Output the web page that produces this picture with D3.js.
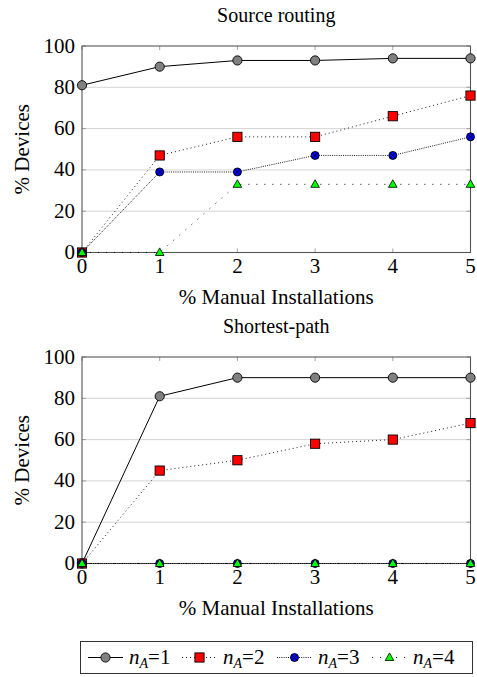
<!DOCTYPE html>
<html>
<head>
<meta charset="utf-8">
<script src="https://cdn.jsdelivr.net/npm/d3@7"></script>
<style>
  body { margin: 0; background: #fff; }
</style>
</head>
<body>
<div id="chart"></div>
<script>

// data
var xValues = [0, 1, 2, 3, 4, 5];
var yTickValues = [0, 20, 40, 60, 80, 100];
var panelTitles = ["Source routing", "Shortest-path"];
var seriesNames = ["1", "2", "3", "4"];   // n_A = ...

var sourceN1 = [81, 90, 93, 93, 94, 94];
var sourceN2 = [0, 47, 56, 56, 66, 76];
var sourceN3 = [0, 39, 39, 47, 47, 56];
var sourceN4 = [0, 0, 33, 33, 33, 33];

var shortestN1 = [0, 81, 90, 90, 90, 90];
var shortestN2 = [0, 45, 50, 58, 60, 68];
var shortestN3 = [0, 0, 0, 0, 0, 0];
var shortestN4 = [0, 0, 0, 0, 0, 0];

var xLabel = "% Manual Installations";
var yLabel = "% Devices";

// renderer only picks up the plain family name
var serif = "Liberation Serif";

// styles per series
var styles = [
  {dash: null,   width: 1,   mark: "circle"},
  {dash: "1,3",  width: 0.9, mark: "square"},
  {dash: "1,1.2",width: 0.9, mark: "otimes"},
  {dash: "1,7",  width: 0.9, mark: "triangle"}
];

var svg = d3.select("#chart")
  .append("svg")
  .attr("width", 477)
  .attr("height", 677)
  .attr("font-family", serif);

var x = d3.scaleLinear().domain([0, 5]).range([82, 470.5]);

function drawMarker(sel, kind) {
  if (kind == "circle") {
    sel.append("circle").attr("r", 4.6)
      .attr("fill", "#808080").attr("stroke", "#000").attr("stroke-width", 0.9);
  } else if (kind == "square") {
    sel.append("rect").attr("x", -4.6).attr("y", -4.6).attr("width", 9.2).attr("height", 9.2)
      .attr("fill", "#ff0000").attr("stroke", "#000").attr("stroke-width", 0.9);
  } else if (kind == "otimes") {
    sel.append("circle").attr("r", 4)
      .attr("fill", "#0000ff").attr("stroke", "#000").attr("stroke-width", 0.9);
    sel.append("path").attr("d", "M-2.8,-2.8L2.8,2.8M-2.8,2.8L2.8,-2.8")
      .attr("stroke", "#000").attr("stroke-width", 0.8);
  } else {
    sel.append("path").attr("d", "M0,-4.6L4.3,3L-4.3,3Z")
      .attr("fill", "#00ff00").attr("stroke", "#000").attr("stroke-width", 0.8);
  }
}

function drawPanel(top, bottom, title, series) {
  var y = d3.scaleLinear().domain([0, 100]).range([bottom, top]);
  var g = svg.append("g");

  // title
  g.append("text")
    .attr("x", (x(0) + x(5)) / 2)
    .attr("y", top - 24)
    .attr("text-anchor", "middle")
    .attr("font-family", serif)
    .attr("font-size", 20)
    .text(title);

  // grid
  g.selectAll(".grid").data(yTickValues.slice(1, -1)).enter()
    .append("line")
    .attr("x1", x(0)).attr("x2", x(5))
    .attr("y1", function(d) { return y(d); })
    .attr("y2", function(d) { return y(d); })
    .attr("stroke", "#cfcfcf").attr("stroke-width", 0.9);

  // inward ticks
  var tl = 4;
  xValues.forEach(function(v) {
    g.append("line").attr("x1", x(v)).attr("x2", x(v)).attr("y1", bottom).attr("y2", bottom - tl)
      .attr("stroke", "#999").attr("stroke-width", 0.9);
    g.append("line").attr("x1", x(v)).attr("x2", x(v)).attr("y1", top).attr("y2", top + tl)
      .attr("stroke", "#999").attr("stroke-width", 0.9);
  });
  yTickValues.forEach(function(v) {
    g.append("line").attr("x1", x(0)).attr("x2", x(0) + tl).attr("y1", y(v)).attr("y2", y(v))
      .attr("stroke", "#999").attr("stroke-width", 0.9);
    g.append("line").attr("x1", x(5)).attr("x2", x(5) - tl).attr("y1", y(v)).attr("y2", y(v))
      .attr("stroke", "#999").attr("stroke-width", 0.9);
  });

  // frame
  g.append("rect")
    .attr("x", x(0)).attr("y", top)
    .attr("width", x(5) - x(0)).attr("height", bottom - top)
    .attr("fill", "none").attr("stroke", "#555").attr("stroke-width", 1.1);

  // tick labels
  g.selectAll(".xl").data(xValues).enter().append("text")
    .attr("x", function(d) { return x(d); })
    .attr("y", bottom + 20)
    .attr("text-anchor", "middle")
    .attr("font-family", serif)
    .attr("font-size", 21)
    .text(function(d) { return d; });

  g.selectAll(".yl").data(yTickValues).enter().append("text")
    .attr("x", x(0) - 7)
    .attr("y", function(d) { return y(d) + 6.5; })
    .attr("text-anchor", "end")
    .attr("font-family", serif)
    .attr("font-size", 21)
    .text(function(d) { return d; });

  // axis labels
  g.append("text")
    .attr("x", (x(0) + x(5)) / 2)
    .attr("y", bottom + 51)
    .attr("text-anchor", "middle")
    .attr("font-family", serif)
    .attr("font-size", 21)
    .text(xLabel);

  g.append("text")
    .attr("transform", "translate(29," + ((top + bottom) / 2) + ") rotate(-90)")
    .attr("text-anchor", "middle")
    .attr("font-family", serif)
    .attr("font-size", 21)
    .text(yLabel);

  // lines
  var line = d3.line()
    .x(function(d, i) { return x(xValues[i]); })
    .y(function(d) { return y(d); });

  series.forEach(function(s, k) {
    g.append("path")
      .attr("d", line(s))
      .attr("fill", "none")
      .attr("stroke", "#000")
      .attr("stroke-width", styles[k].width)
      .attr("stroke-dasharray", styles[k].dash);
  });

  series.forEach(function(s, k) {
    g.selectAll(".m" + k).data(s).enter().append("g")
      .attr("transform", function(d, i) { return "translate(" + x(xValues[i]) + "," + y(d) + ")"; })
      .call(drawMarker, styles[k].mark);
  });
}

drawPanel(46, 252.5, panelTitles[0], [sourceN1, sourceN2, sourceN3, sourceN4]);
drawPanel(357, 563.5, panelTitles[1], [shortestN1, shortestN2, shortestN3, shortestN4]);

// legend
var legend = svg.append("g");
legend.append("rect")
  .attr("x", 80.5).attr("y", 641.5).attr("width", 392).attr("height", 32)
  .attr("fill", "#fff").attr("stroke", "#333").attr("stroke-width", 1);

var legendStarts = [88, 182, 277, 372];
seriesNames.forEach(function(n, k) {
  var lx = legendStarts[k], ly = 657.5;
  var item = legend.append("g");
  item.append("line")
    .attr("x1", lx).attr("x2", lx + 35).attr("y1", ly).attr("y2", ly)
    .attr("stroke", "#000").attr("stroke-width", styles[k].width)
    .attr("stroke-dasharray", styles[k].dash);
  item.append("g").attr("transform", "translate(" + (lx + 17.5) + "," + ly + ")")
    .call(drawMarker, styles[k].mark);
  var t = item.append("text")
    .attr("x", lx + 41)
    .attr("y", ly + 6.5)
    .attr("font-family", serif)
    .attr("font-size", 21);
  t.append("tspan").attr("font-style", "italic").text("n");
  t.append("tspan").attr("font-style", "italic").attr("font-size", 14)
    .attr("dy", 4).text("A");
  t.append("tspan").attr("dy", -4).text("=" + n);
});
</script>
</body>
</html>
